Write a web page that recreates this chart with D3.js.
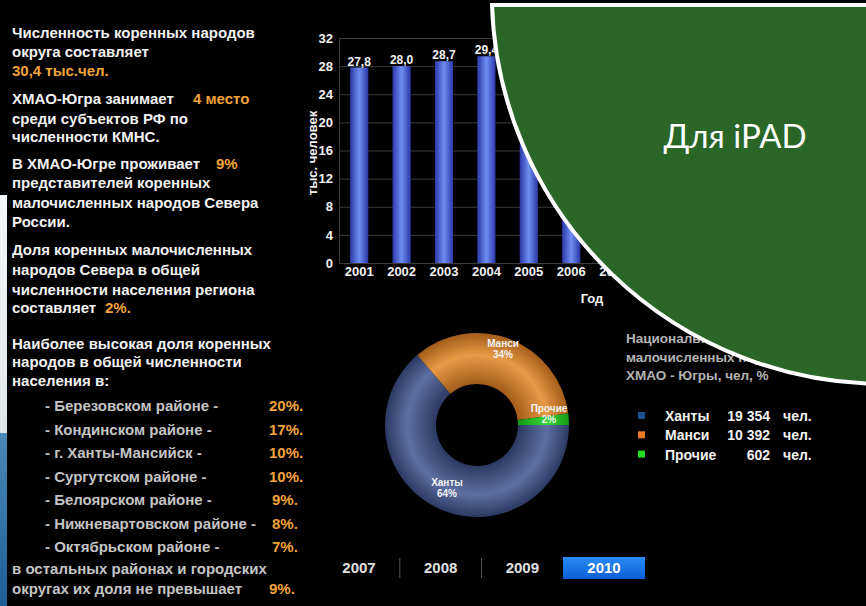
<!DOCTYPE html>
<html><head><meta charset="utf-8">
<script src="https://cdn.jsdelivr.net/npm/d3@7"></script>
<style>
html,body{margin:0;padding:0;background:#000;}
svg{display:block;}
text{font-family:"Liberation Sans",Arial,sans-serif;font-weight:bold;}
</style></head>
<body>
<svg id="c" width="866" height="606"></svg>
<script>
// ---------- data ----------
const years = ['2001','2002','2003','2004','2005','2006','2007','2008','2009','2010'];
const population = [27.8, 28.0, 28.7, 29.4, 29.9, 30.1, 30.2, 30.3, 30.3, 30.4]; // тыс. человек
const yTicks = [0, 4, 8, 12, 16, 20, 24, 28, 32];

const groups = ['Ханты', 'Манси', 'Прочие'];
const groupCounts = [19354, 10392, 602];
const groupShares = [64, 34, 2];
const groupColors = ['#1f4e8c', '#f07a28', '#22dd22'];

const tabYears = ['2007', '2008', '2009', '2010'];
const activeYear = '2010';

const districts = ['Березовском районе -', 'Кондинском районе -', 'г. Ханты-Мансийск  -', 'Сургутском районе -',
  'Белоярском районе -', 'Нижневартовском районе -', 'Октябрьском районе -'];
const districtShares = [20, 17, 10, 10, 9, 8, 7];

// ---------- setup ----------
const svg = d3.select('#c');
const defs = svg.append('defs');
const W = 866, H = 606;
const ORANGE = '#f2a33a', WHITE = '#f2f2f2', GRAY = '#c4c4c4';

svg.append('rect').attr('width', W).attr('height', H).attr('fill', '#000');

// left edge strip (background of slide)
const lg = defs.append('linearGradient').attr('id', 'edgeLight').attr('x1', 0).attr('x2', 0).attr('y1', 0).attr('y2', 1);
lg.append('stop').attr('offset', 0).attr('stop-color', '#f4f7f9');
lg.append('stop').attr('offset', 1).attr('stop-color', '#dfe6ea');
const bg = defs.append('linearGradient').attr('id', 'edgeBlue').attr('x1', 0).attr('x2', 0).attr('y1', 0).attr('y2', 1);
bg.append('stop').attr('offset', 0).attr('stop-color', '#4a8ab8');
bg.append('stop').attr('offset', 1).attr('stop-color', '#1a5f96');
svg.append('rect').attr('x', 0).attr('y', 195).attr('width', 7).attr('height', 238).attr('fill', 'url(#edgeLight)');
svg.append('rect').attr('x', 0).attr('y', 433).attr('width', 7).attr('height', 173).attr('fill', 'url(#edgeBlue)');

// ---------- left text ----------
const tx = 12;
function line(y, parts, size) {
  const t = svg.append('text').attr('x', tx).attr('y', y).attr('font-size', size || 15);
  parts.forEach(p => {
    const s = t.append('tspan').attr('fill', p.c || WHITE).text(p.t);
    if (p.x !== undefined) s.attr('x', p.x);
  });
  return t;
}
line(38, [{t: 'Численность коренных народов'}]);
line(57, [{t: 'округа составляет'}]);
line(76, [{t: '30,4 тыс.чел.', c: ORANGE}]);
line(104, [{t: 'ХМАО-Югра занимает'}, {t: '4 место', c: ORANGE, x: 193}]);
line(124, [{t: 'среди субъектов РФ по'}]);
line(142, [{t: 'численности КМНС.'}]);
line(169, [{t: 'В ХМАО-Югре проживает'}, {t: '9%', c: ORANGE, x: 216}]);
line(188, [{t: 'представителей коренных'}]);
line(208, [{t: 'малочисленных народов Севера'}]);
line(227, [{t: 'России.'}]);
line(255, [{t: 'Доля коренных малочисленных'}]);
line(275, [{t: 'народов Севера в общей'}]);
line(295, [{t: 'численности населения региона'}]);
line(313, [{t: 'составляет'}, {t: '2%.', c: ORANGE, x: 105}]);
line(349, [{t: 'Наиболее высокая доля коренных'}]);
line(367, [{t: 'народов в общей численности'}]);
line(386, [{t: 'населения в:'}]);

const listY = d3.scaleLinear().domain([0, districts.length - 1]).range([411, 552]);
districts.forEach((d, i) => {
  svg.append('text').attr('x', 45).attr('y', listY(i)).attr('font-size', 15).attr('fill', GRAY).text('- ' + d);
  svg.append('text').attr('x', districtShares[i] >= 10 ? 269 : 272).attr('y', listY(i))
    .attr('font-size', 15).attr('fill', ORANGE).text(districtShares[i] + '%.');
});
svg.append('text').attr('x', tx).attr('y', 574).attr('font-size', 15).attr('fill', GRAY).text('в остальных районах и городских');
svg.append('text').attr('x', tx).attr('y', 594).attr('font-size', 15).attr('fill', GRAY).text('округах их доля не превышает');
svg.append('text').attr('x', 269).attr('y', 594).attr('font-size', 15).attr('fill', ORANGE).text('9%.');

// ---------- bar chart ----------
const x = d3.scaleBand().domain(years).range([339, 761]).paddingInner(0.571).paddingOuter(0.262);
const y = d3.scaleLinear().domain([0, 32]).range([263, 38]);
const fmt = v => d3.format('.1f')(v).replace('.', ',');

const barG = defs.append('linearGradient').attr('id', 'barGrad').attr('x1', 0).attr('x2', 1).attr('y1', 0).attr('y2', 0);
barG.append('stop').attr('offset', 0).attr('stop-color', '#2a37a8');
barG.append('stop').attr('offset', 0.5).attr('stop-color', '#6f8ef2');
barG.append('stop').attr('offset', 1).attr('stop-color', '#2a37a8');

const grid = svg.append('g');
grid.selectAll('line').data(yTicks).join('line')
  .attr('x1', 339).attr('x2', 780).attr('y1', d => y(d) + 0.5).attr('y2', d => y(d) + 0.5)
  .attr('stroke', '#3c3c3c').attr('stroke-width', 1);
svg.append('line').attr('x1', 339.5).attr('x2', 339.5).attr('y1', y(32)).attr('y2', y(0))
  .attr('stroke', '#3c3c3c');

const yAxis = svg.append('g').attr('transform', 'translate(339,0)')
  .call(d3.axisLeft(y).tickValues(yTicks).tickSize(0).tickPadding(6));
yAxis.select('.domain').remove();
yAxis.selectAll('text').attr('fill', WHITE).attr('font-size', 13).attr('font-family', '"Liberation Sans",Arial,sans-serif').attr('font-weight', 'bold');

const xAxis = svg.append('g').attr('transform', 'translate(0,263)')
  .call(d3.axisBottom(x).tickSize(0).tickPadding(4));
xAxis.select('.domain').remove();
xAxis.selectAll('text').attr('fill', WHITE).attr('font-size', 13).attr('font-family', '"Liberation Sans",Arial,sans-serif').attr('font-weight', 'bold');

svg.append('g').selectAll('rect').data(years).join('rect')
  .attr('x', d => x(d)).attr('width', x.bandwidth())
  .attr('y', (d, i) => y(population[i])).attr('height', (d, i) => y(0) - y(population[i]))
  .attr('fill', 'url(#barGrad)');

svg.append('g').selectAll('text').data(years).join('text')
  .attr('x', d => x(d) + x.bandwidth() / 2).attr('y', (d, i) => y(population[i]) - 2)
  .attr('text-anchor', 'middle').attr('font-size', 12).attr('fill', WHITE)
  .text((d, i) => fmt(population[i]));

svg.append('text').attr('transform', 'translate(317,153) rotate(-90)').attr('text-anchor', 'middle')
  .attr('font-size', 13).attr('fill', WHITE).text('тыс. человек');
svg.append('text').attr('x', 592).attr('y', 303).attr('text-anchor', 'middle')
  .attr('font-size', 13).attr('fill', WHITE).text('Год');

// ---------- donut ----------
const cx = 477, cy = 425, rIn = 41, rOut = 92;
const shades = [['#2c3a62', '#5d6fa2'], ['#a35c1a', '#e89a44'], ['#149a14', '#38d838']];
shades.forEach((s, i) => {
  const g = defs.append('radialGradient').attr('id', 'dg' + i).attr('gradientUnits', 'userSpaceOnUse')
    .attr('cx', 0).attr('cy', 0).attr('r', rOut);
  g.append('stop').attr('offset', rIn / rOut).attr('stop-color', s[0]);
  g.append('stop').attr('offset', 0.76).attr('stop-color', s[1]);
  g.append('stop').attr('offset', 1).attr('stop-color', s[0]);
});
const pie = d3.pie().sort(null).startAngle(Math.PI / 2).endAngle(Math.PI / 2 + 2 * Math.PI);
const arcs = pie(groupCounts);
const arc = d3.arc().innerRadius(rIn).outerRadius(rOut);
const dg = svg.append('g').attr('transform', `translate(${cx},${cy})`);
dg.selectAll('path').data(arcs).join('path').attr('d', arc).attr('fill', (d, i) => `url(#dg${i})`);

const labelPos = [[-30, 62], [26, -77], [72, -12]];
arcs.forEach((a, i) => {
  const t = dg.append('text').attr('text-anchor', 'middle').attr('font-size', 10).attr('fill', WHITE)
    .attr('transform', `translate(${labelPos[i][0]},${labelPos[i][1]})`);
  t.append('tspan').attr('x', 0).attr('y', -1).text(groups[i]);
  t.append('tspan').attr('x', 0).attr('y', 9.5).text(groupShares[i] + '%');
});

// ---------- legend ----------
['Национальный состав коренных', 'малочисленных народов', 'ХМАО - Югры, чел, %'].forEach((s, i) => {
  svg.append('text').attr('x', 626).attr('y', 343 + i * 18.5).attr('font-size', 13.5).attr('fill', '#b4b4b4').text(s);
});
const fmtN = d3.formatLocale({decimal: ',', thousands: ' ', grouping: [3], currency: ['', '']}).format(',d');
groups.forEach((g, i) => {
  const yy = 421 + i * 19.3;
  svg.append('rect').attr('x', 638).attr('y', yy - 9).attr('width', 7).attr('height', 7).attr('fill', groupColors[i]);
  svg.append('text').attr('x', 665).attr('y', yy).attr('font-size', 14).attr('fill', WHITE).text(g);
  svg.append('text').attr('x', 770).attr('y', yy).attr('text-anchor', 'end').attr('font-size', 14).attr('fill', WHITE).text(fmtN(groupCounts[i]));
  svg.append('text').attr('x', 783).attr('y', yy).attr('font-size', 14).attr('fill', WHITE).text('чел.');
});

// ---------- year tabs ----------
const tabX = d3.scalePoint().domain(tabYears).range([359, 604]);
const btnG = defs.append('linearGradient').attr('id', 'btn').attr('x1', 0).attr('x2', 0).attr('y1', 0).attr('y2', 1);
btnG.append('stop').attr('offset', 0).attr('stop-color', '#2a8cf5');
btnG.append('stop').attr('offset', 1).attr('stop-color', '#0a5fd6');
svg.append('rect').attr('x', tabX(activeYear) - 41).attr('y', 557).attr('width', 82).attr('height', 22).attr('fill', 'url(#btn)');
tabYears.slice(0, -1).forEach((t, i) => {
  const mx = (tabX(t) + tabX(tabYears[i + 1])) / 2;
  if (tabYears[i + 1] !== activeYear)
    svg.append('line').attr('x1', mx).attr('x2', mx).attr('y1', 558).attr('y2', 578).attr('stroke', '#555');
});
svg.append('g').selectAll('text').data(tabYears).join('text')
  .attr('x', d => tabX(d)).attr('y', 573).attr('text-anchor', 'middle').attr('font-size', 15)
  .attr('fill', d => d === activeYear ? '#fff' : '#e0e0e0').text(d => d);

// ---------- green overlay ----------
svg.append('path')
  .attr('d', 'M492,5 A393,392 0 0 0 885,384 L885,5 Z')
  .attr('fill', '#2a6627').attr('stroke', '#fff').attr('stroke-width', 4);
svg.append('text').attr('x', 735).attr('y', 148).attr('text-anchor', 'middle')
  .style('font-family', 'Lato, "Open Sans", sans-serif').style('font-weight', 'normal')
  .attr('font-size', 33).attr('fill', '#fff').text('Для iPAD');
</script>
</body></html>
